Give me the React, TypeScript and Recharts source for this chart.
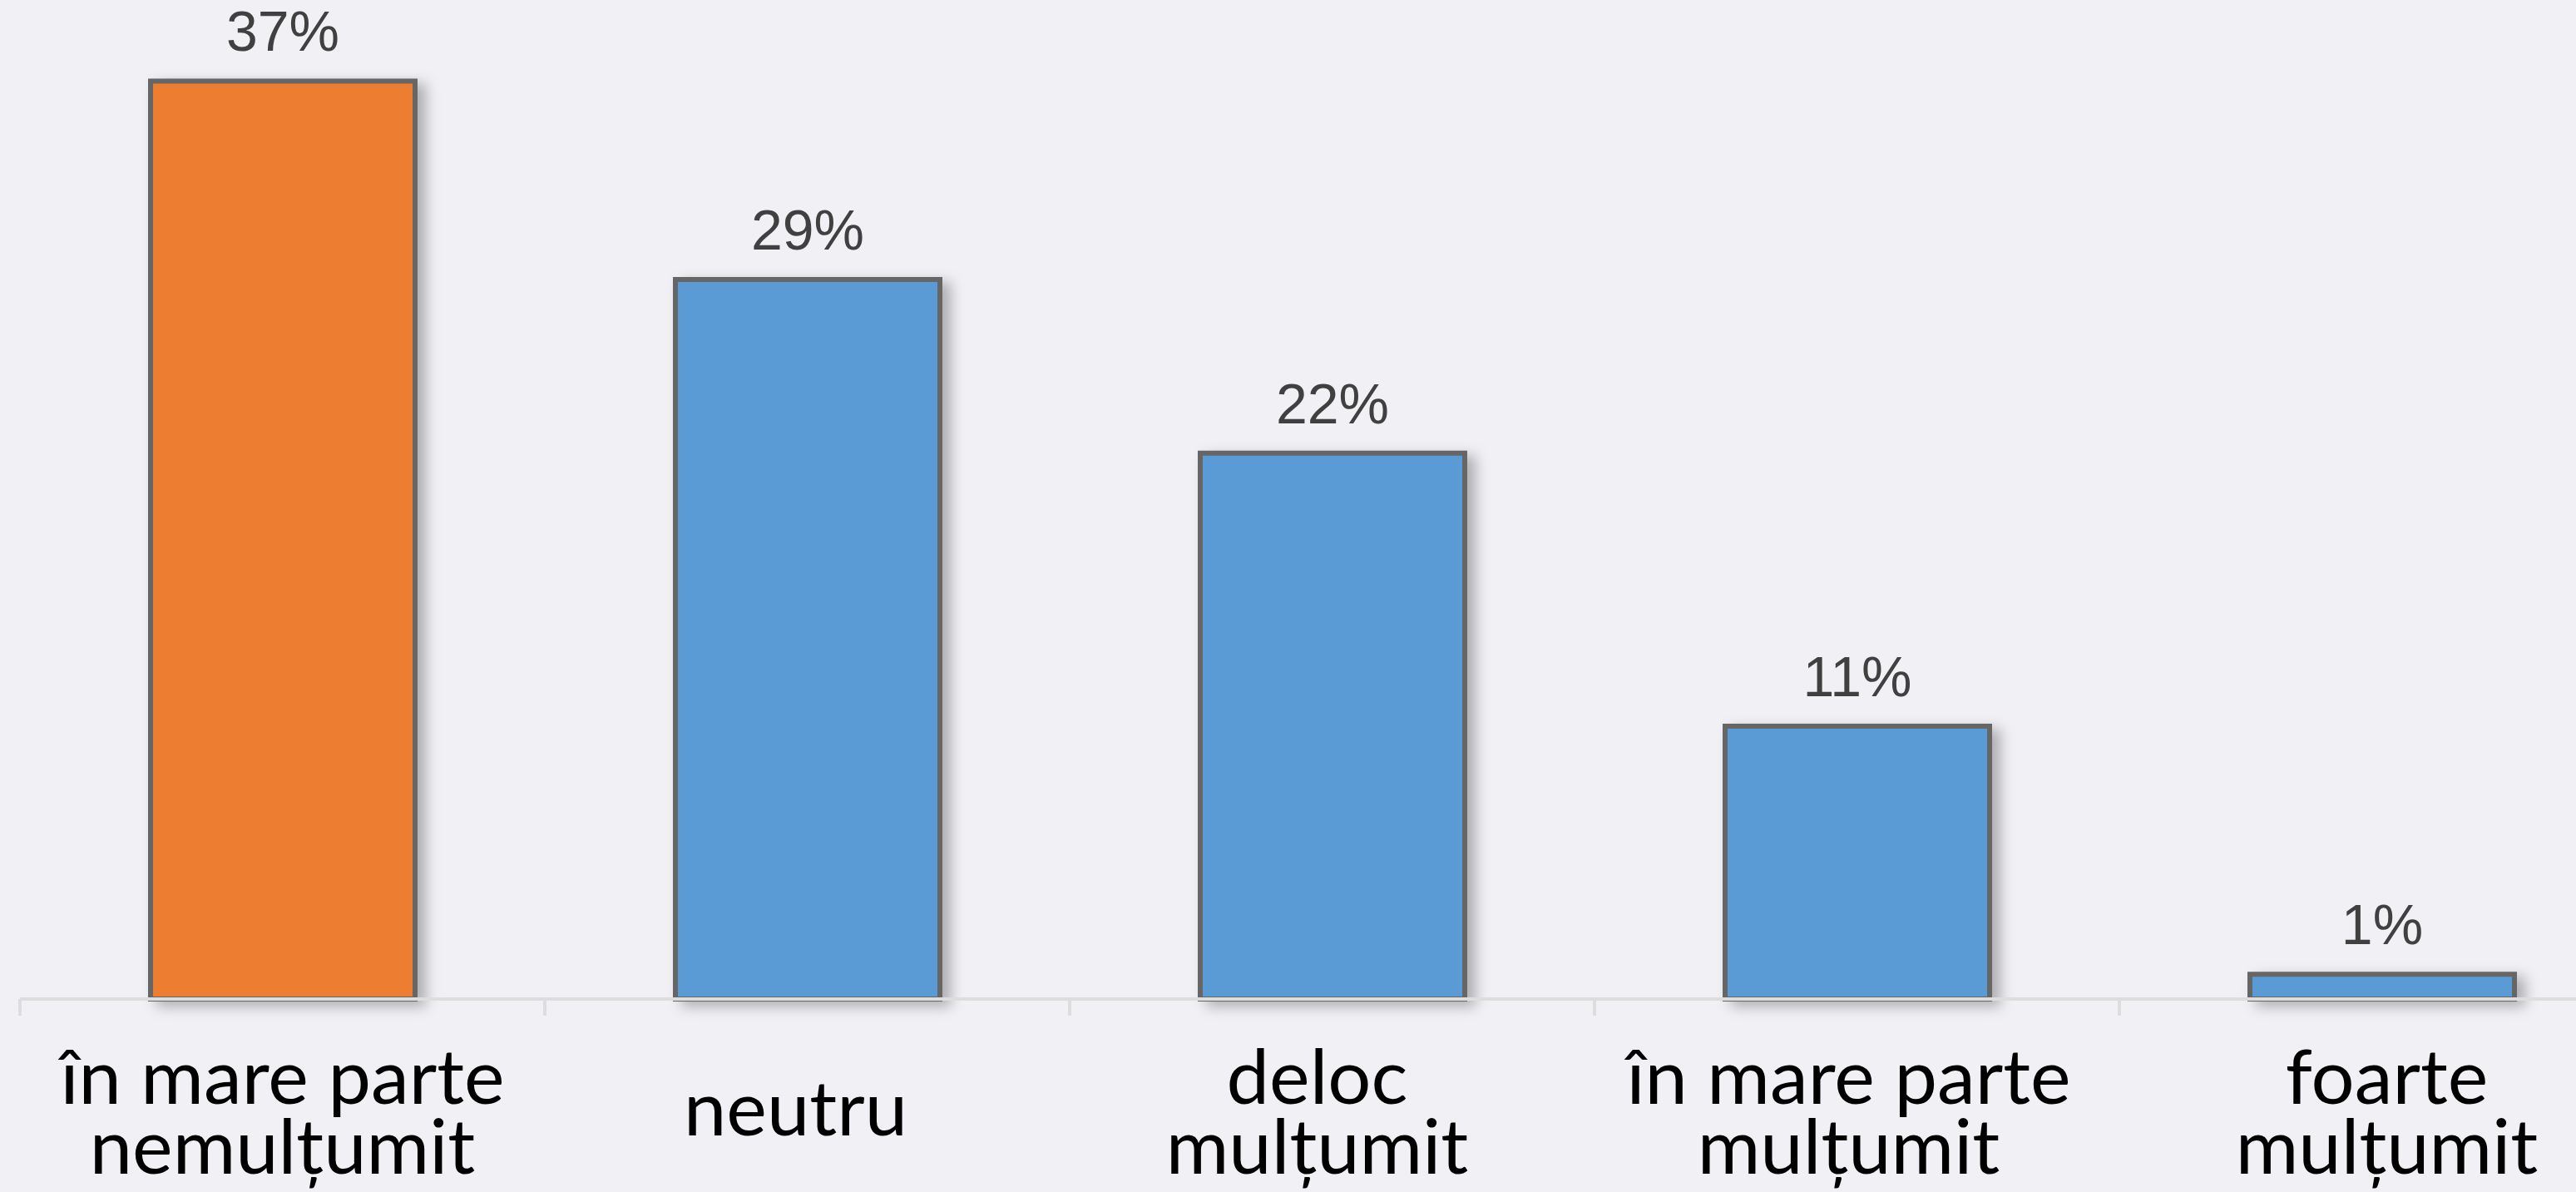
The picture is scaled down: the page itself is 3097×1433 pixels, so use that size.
import React from 'react';
import { BarChart, Bar, XAxis, YAxis, Cell, LabelList, Rectangle } from 'recharts';

const CATEGORIES = ['în mare parte nemulțumit', 'neutru', 'deloc mulțumit', 'în mare parte mulțumit', 'foarte mulțumit'];
const LABEL_LINES = [
  ['în mare parte', 'nemulțumit'],
  ['neutru'],
  ['deloc', 'mulțumit'],
  ['în mare parte', 'mulțumit'],
  ['foarte', 'mulțumit'],
];
const VALUES = [37, 29, 22, 11, 1];
const COLORS = ['#ED7D31', '#5B9BD5', '#5B9BD5', '#5B9BD5', '#5B9BD5'];

const data = CATEGORIES.map((c, i) => ({ name: c, value: VALUES[i] }));

const HALF_BAND = 315.5;
const LABEL_DX = [0, -14, -18, -10, 6];

const Tick = (props: any) => {
  const { x, y, index } = props;
  const lines = LABEL_LINES[index] || [];
  const base = lines.length === 1 ? y + 164 : y + 126;
  const dx = LABEL_DX[index] || 0;
  return (
    <g>
      <line x1={x - HALF_BAND} x2={x - HALF_BAND} y1={y} y2={y + 20} stroke="#DDDDDD" strokeWidth={4} />
      {lines.map((l: string, k: number) => (
        <text key={k} x={x + dx} y={base + k * 84} textAnchor="middle" fill="#000" fontFamily="Lato" fontSize={92}>
          {l}
        </text>
      ))}
    </g>
  );
};

const Shape = (props: any) => (
  <Rectangle {...props} style={{ filter: 'drop-shadow(10px 6px 8px rgba(0,0,0,0.28))' }} />
);

export default function App() {
  return (
    <div style={{ position: 'absolute', left: 0, top: 0, width: 3097, height: 1433, overflow: 'hidden', background: '#F1F0F5' }}>
      <BarChart width={3180} height={1433} data={data} margin={{ top: 8, right: 1, left: 24, bottom: 0 }}>
        <XAxis
          dataKey="name"
          height={232}
          interval={0}
          axisLine={{ stroke: '#DDDDDD', strokeWidth: 4 }}
          tickLine={false}
          tickSize={0}
          tickMargin={0}
          tick={<Tick />}
        />
        <YAxis hide domain={[0, 40]} />
        <Bar dataKey="value" barSize={318} stroke="#666666" strokeWidth={6} isAnimationActive={false} shape={<Shape />}>
          {data.map((d, i) => (
            <Cell key={i} fill={COLORS[i]} />
          ))}
          <LabelList
            dataKey="value"
            position="top"
            offset={36}
            formatter={(v: any) => `${v}%`}
            fill="#404040"
            fontFamily="Liberation Sans"
            fontSize={68}
          />
        </Bar>
      </BarChart>
    </div>
  );
}
